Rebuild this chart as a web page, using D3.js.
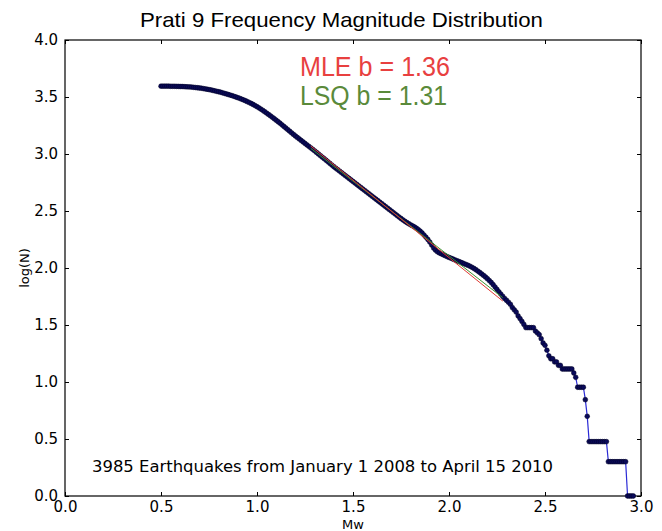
<!DOCTYPE html>
<html>
<head>
<meta charset="utf-8">
<script src="https://cdn.jsdelivr.net/npm/d3@7"></script>
<style>
  body { margin: 0; background: #fff; }
  text { font-family: "DejaVu Sans", sans-serif; }
</style>
</head>
<body>
<div id="chart"></div>
<script>
// magnitude bins (Mw) and cumulative log10(N)
var mags = [
  0.50, 0.51, 0.52, 0.53, 0.54, 0.55, 0.56, 0.57, 0.58, 0.59,
  0.60, 0.61, 0.62, 0.63, 0.64, 0.65, 0.66, 0.67, 0.68, 0.69,
  0.70, 0.71, 0.72, 0.73, 0.74, 0.75, 0.76, 0.77, 0.78, 0.79,
  0.80, 0.81, 0.82, 0.83, 0.84, 0.85, 0.86, 0.87, 0.88, 0.89,
  0.90, 0.91, 0.92, 0.93, 0.94, 0.95, 0.96, 0.97, 0.98, 0.99,
  1.00, 1.01, 1.02, 1.03, 1.04, 1.05, 1.06, 1.07, 1.08, 1.09,
  1.10, 1.11, 1.12, 1.13, 1.14, 1.15, 1.16, 1.17, 1.18, 1.19,
  1.20, 1.21, 1.22, 1.23, 1.24, 1.25, 1.26, 1.27, 1.28, 1.29,
  1.30, 1.31, 1.32, 1.33, 1.34, 1.35, 1.36, 1.37, 1.38, 1.39,
  1.40, 1.41, 1.42, 1.43, 1.44, 1.45, 1.46, 1.47, 1.48, 1.49,
  1.50, 1.51, 1.52, 1.53, 1.54, 1.55, 1.56, 1.57, 1.58, 1.59,
  1.60, 1.61, 1.62, 1.63, 1.64, 1.65, 1.66, 1.67, 1.68, 1.69,
  1.70, 1.71, 1.72, 1.73, 1.74, 1.75, 1.76, 1.77, 1.78, 1.79,
  1.80, 1.81, 1.82, 1.83, 1.84, 1.85, 1.86, 1.87, 1.88, 1.89,
  1.90, 1.91, 1.92, 1.93, 1.94, 1.95, 1.96, 1.97, 1.98, 1.99,
  2.00, 2.01, 2.02, 2.03, 2.04, 2.05, 2.06, 2.07, 2.08, 2.09,
  2.10, 2.11, 2.12, 2.13, 2.14, 2.15, 2.16, 2.17, 2.18, 2.19,
  2.20, 2.21, 2.22, 2.23, 2.24, 2.25, 2.26, 2.27, 2.28, 2.29,
  2.30, 2.31, 2.32, 2.33, 2.34, 2.35, 2.36, 2.37, 2.38, 2.39,
  2.40, 2.41, 2.42, 2.43, 2.44, 2.45, 2.46, 2.47, 2.48, 2.49,
  2.50, 2.51, 2.52, 2.53, 2.54, 2.55, 2.56, 2.57, 2.58, 2.59,
  2.60, 2.61, 2.62, 2.63, 2.64, 2.65, 2.66, 2.67, 2.68, 2.69,
  2.70, 2.71, 2.72, 2.73, 2.74, 2.75, 2.76, 2.77, 2.78, 2.79,
  2.80, 2.81, 2.82, 2.83, 2.84, 2.85, 2.86, 2.87, 2.88, 2.89,
  2.90, 2.91, 2.92, 2.93, 2.94, 2.95, 2.96
];

var logN = [
  3.595, 3.595, 3.595, 3.595, 3.595, 3.594, 3.594, 3.594, 3.593, 3.593,
  3.592, 3.592, 3.591, 3.590, 3.589, 3.588, 3.587, 3.585, 3.583, 3.581,
  3.579, 3.577, 3.574, 3.571, 3.568, 3.565, 3.562, 3.558, 3.554, 3.550,
  3.546, 3.542, 3.537, 3.532, 3.527, 3.522, 3.517, 3.512, 3.506, 3.500,
  3.494, 3.488, 3.481, 3.474, 3.467, 3.459, 3.451, 3.443, 3.434, 3.425,
  3.415, 3.405, 3.394, 3.383, 3.371, 3.359, 3.347, 3.335, 3.322, 3.309,
  3.296, 3.283, 3.270, 3.256, 3.242, 3.228, 3.214, 3.200, 3.186, 3.172,
  3.158, 3.145, 3.132, 3.119, 3.106, 3.093, 3.080, 3.067, 3.054, 3.041,
  3.028, 3.014, 3.000, 2.986, 2.972, 2.959, 2.945, 2.931, 2.917, 2.903,
  2.889, 2.876, 2.863, 2.850, 2.837, 2.824, 2.811, 2.798, 2.785, 2.772,
  2.759, 2.746, 2.733, 2.720, 2.707, 2.694, 2.681, 2.668, 2.655, 2.642,
  2.629, 2.616, 2.603, 2.590, 2.577, 2.564, 2.551, 2.538, 2.525, 2.512,
  2.499, 2.486, 2.473, 2.460, 2.447, 2.434, 2.422, 2.410, 2.399, 2.389,
  2.379, 2.370, 2.360, 2.349, 2.337, 2.323, 2.307, 2.289, 2.270, 2.250,
  2.227, 2.201, 2.175, 2.156, 2.142, 2.132, 2.124, 2.116, 2.108, 2.100,
  2.093, 2.086, 2.079, 2.072, 2.065, 2.058, 2.051, 2.044, 2.037, 2.030,
  2.023, 2.015, 2.006, 1.996, 1.985, 1.973, 1.961, 1.948, 1.935, 1.921,
  1.906, 1.890, 1.873, 1.854, 1.833, 1.812, 1.791, 1.771, 1.751, 1.732,
  1.716, 1.699, 1.681, 1.653, 1.633, 1.613, 1.580, 1.556, 1.531, 1.505,
  1.477, 1.477, 1.477, 1.477, 1.477, 1.447, 1.431, 1.415, 1.380, 1.342,
  1.322, 1.279, 1.230, 1.204, 1.204, 1.176, 1.176, 1.146, 1.146, 1.114,
  1.114, 1.114, 1.114, 1.114, 1.114, 1.079, 1.041, 0.954, 0.954, 0.954,
  0.954, 0.845, 0.699, 0.477, 0.477, 0.477, 0.477, 0.477, 0.477, 0.477,
  0.477, 0.477, 0.477, 0.301, 0.301, 0.301, 0.301, 0.301, 0.301, 0.301,
  0.301, 0.301, 0.301, 0.000, 0.000, 0.000, 0.000
];

// fitted lines (end points)
var fitMags = [1.28, 2.28];
var mleFit = [3.07, 1.71];
var lsqFit = [3.05, 1.74];

var xTicks = [0.0, 0.5, 1.0, 1.5, 2.0, 2.5, 3.0];
var yTicks = [0.0, 0.5, 1.0, 1.5, 2.0, 2.5, 3.0, 3.5, 4.0];

var titleText = "Prati 9 Frequency Magnitude Distribution";
var mleText = "MLE b = 1.36";
var lsqText = "LSQ b = 1.31";
var noteText = "3985 Earthquakes from January 1 2008 to April 15 2010";

// svg size
var svgWidth = 662;
var svgHeight = 531;

var margin = {
  top: 40,
  right: 21,
  bottom: 35,
  left: 65
};

var chartWidth = svgWidth - margin.left - margin.right;
var chartHeight = svgHeight - margin.top - margin.bottom;

var svg = d3.select("#chart")
  .append("svg")
  .attr("width", svgWidth)
  .attr("height", svgHeight);

var chartGroup = svg.append("g")
  .attr("transform", `translate(${margin.left}, ${margin.top})`);

var xScale = d3.scaleLinear()
  .domain([0, 3])
  .range([0, chartWidth]);

var yScale = d3.scaleLinear()
  .domain([0, 4])
  .range([chartHeight, 0]);

var fmt = d3.format(".1f");

// axes, ticks pointing inside like matplotlib classic
var bottomAxis = d3.axisBottom(xScale).tickValues(xTicks).tickFormat(fmt)
  .tickSizeInner(-4).tickSizeOuter(0).tickPadding(5);
var topAxis = d3.axisTop(xScale).tickValues(xTicks).tickFormat("")
  .tickSizeInner(-4).tickSizeOuter(0);
var leftAxis = d3.axisLeft(yScale).tickValues(yTicks).tickFormat(fmt)
  .tickSizeInner(-4).tickSizeOuter(0).tickPadding(7);
var rightAxis = d3.axisRight(yScale).tickValues(yTicks).tickFormat("")
  .tickSizeInner(-4).tickSizeOuter(0);

chartGroup.append("g")
  .attr("transform", `translate(0, ${chartHeight})`)
  .call(bottomAxis);
chartGroup.append("g").call(topAxis);
chartGroup.append("g").call(leftAxis);
chartGroup.append("g")
  .attr("transform", `translate(${chartWidth}, 0)`)
  .call(rightAxis);

chartGroup.selectAll(".domain").remove();
chartGroup.selectAll(".tick line").attr("stroke", "#000");
chartGroup.selectAll(".tick text")
  .attr("fill", "#000")
  .style("font-size", "15px")
  .style("font-family", "DejaVu Sans");

chartGroup.append("rect")
  .attr("width", chartWidth)
  .attr("height", chartHeight)
  .attr("fill", "none")
  .attr("stroke", "#000")
  .attr("stroke-width", 1.2);

// data curve
var points = mags.map((m, i) => ({ m: m, n: logN[i] }));

var line = d3.line()
  .x(d => xScale(d.m))
  .y(d => yScale(d.n));

chartGroup.append("path")
  .datum(points)
  .attr("d", line)
  .attr("fill", "none")
  .attr("stroke", "#2a2ad6")
  .attr("stroke-width", 1.2);

chartGroup.selectAll("circle.pt")
  .data(points)
  .enter()
  .append("circle")
  .attr("class", "pt")
  .attr("cx", d => xScale(d.m))
  .attr("cy", d => yScale(d.n))
  .attr("r", 2.4)
  .attr("fill", "#0a0a5a")
  .attr("stroke", "#000020")
  .attr("stroke-width", 0.5);

// fit lines
var fitLine = d3.line()
  .x(d => xScale(d[0]))
  .y(d => yScale(d[1]));

chartGroup.append("path")
  .datum(fitMags.map((m, i) => [m, lsqFit[i]]))
  .attr("d", fitLine)
  .attr("fill", "none")
  .attr("stroke", "#3f8f2f")
  .attr("stroke-width", 1);

chartGroup.append("path")
  .datum(fitMags.map((m, i) => [m, mleFit[i]]))
  .attr("d", fitLine)
  .attr("fill", "none")
  .attr("stroke", "#e03a33")
  .attr("stroke-width", 1);

// texts
svg.append("text")
  .attr("x", 140)
  .attr("y", 27)
  .attr("textLength", 403)
  .attr("lengthAdjust", "spacingAndGlyphs")
  .style("font-family", "Liberation Sans, Arial, sans-serif")
  .style("font-size", "21px")
  .text(titleText);

svg.append("text")
  .attr("x", 300)
  .attr("y", 76)
  .attr("textLength", 150)
  .attr("lengthAdjust", "spacingAndGlyphs")
  .attr("fill", "#e8403f")
  .style("font-family", "Liberation Sans, Arial, sans-serif")
  .style("font-size", "27px")
  .text(mleText);

svg.append("text")
  .attr("x", 300)
  .attr("y", 105)
  .attr("textLength", 147)
  .attr("lengthAdjust", "spacingAndGlyphs")
  .attr("fill", "#5a8a3a")
  .style("font-family", "Liberation Sans, Arial, sans-serif")
  .style("font-size", "27px")
  .text(lsqText);

svg.append("text")
  .attr("x", 92)
  .attr("y", 472)
  .attr("textLength", 461)
  .attr("lengthAdjust", "spacingAndGlyphs")
  .style("font-size", "15px")
  .text(noteText);

svg.append("text")
  .attr("x", margin.left + chartWidth / 2)
  .attr("y", 529)
  .attr("text-anchor", "middle")
  .style("font-size", "13px")
  .text("Mw");

svg.append("text")
  .attr("transform", `translate(29, ${margin.top + chartHeight / 2}) rotate(-90)`)
  .attr("text-anchor", "middle")
  .style("font-size", "13px")
  .text("log(N)");
</script>
</body>
</html>
